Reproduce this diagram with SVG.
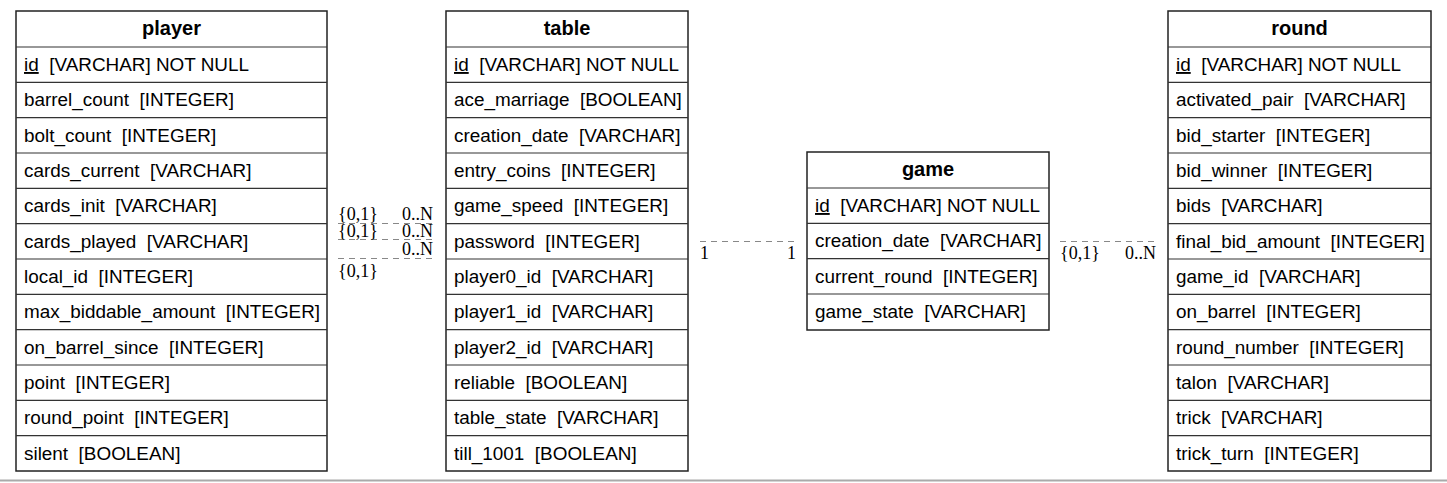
<svg xmlns="http://www.w3.org/2000/svg" width="1447" height="483" viewBox="0 0 1447 483">
<style>
.box{fill:#fff;stroke:#222;stroke-width:1.5}
.sep{stroke:#333;stroke-width:1.2}
.hd{font-family:"Liberation Sans",Arial,sans-serif;font-size:20px;font-weight:bold;fill:#000;text-anchor:middle}
.f{font-family:"Liberation Sans",Arial,sans-serif;font-size:18.9px;fill:#000;white-space:pre}
.u{text-decoration:underline}
.c{stroke:#888;stroke-width:1.2;stroke-dasharray:6 5;fill:none}
.lb{font-family:"Liberation Serif","Times New Roman",serif;font-size:18px;fill:#000}
</style>
<rect x="0" y="0" width="1447" height="483" fill="#fff"/>
<line x1="0" y1="480.5" x2="1447" y2="480.5" stroke="#aaa" stroke-width="2"/>

<g id="connectors">
<line class="c" x1="338" y1="223.5" x2="436" y2="223.5"/>
<line class="c" x1="338" y1="239.5" x2="436" y2="239.5"/>
<line class="c" x1="338" y1="258.5" x2="436" y2="258.5"/>
<line class="c" x1="700" y1="241.5" x2="796" y2="241.5"/>
<line class="c" x1="1060" y1="241.5" x2="1157" y2="241.5"/>
<rect x="336" y="204" width="46" height="17" fill="#fff"/>
<rect x="399" y="204" width="38" height="17" fill="#fff"/>
<text class="lb" x="338" y="220">{0,1}</text>
<text class="lb" x="402" y="220">0..N</text>
<text class="lb" x="338" y="237">{0,1}</text>
<text class="lb" x="402" y="237">0..N</text>
<text class="lb" x="402" y="255">0..N</text>
<text class="lb" x="338" y="277">{0,1}</text>
<text class="lb" x="700" y="259">1</text>
<text class="lb" x="787" y="259">1</text>
<text class="lb" x="1060" y="259">{0,1}</text>
<text class="lb" x="1125" y="259">0..N</text>
</g>

<g id="player">
<rect class="box" x="16" y="11" width="311" height="460"/>
<text class="hd" x="171.5" y="35">player</text>
<line class="sep" x1="16" y1="47" x2="327" y2="47"/>
<line class="sep" x1="16" y1="82.3" x2="327" y2="82.3"/>
<line class="sep" x1="16" y1="117.7" x2="327" y2="117.7"/>
<line class="sep" x1="16" y1="153" x2="327" y2="153"/>
<line class="sep" x1="16" y1="188.3" x2="327" y2="188.3"/>
<line class="sep" x1="16" y1="223.7" x2="327" y2="223.7"/>
<line class="sep" x1="16" y1="259" x2="327" y2="259"/>
<line class="sep" x1="16" y1="294.3" x2="327" y2="294.3"/>
<line class="sep" x1="16" y1="329.7" x2="327" y2="329.7"/>
<line class="sep" x1="16" y1="365" x2="327" y2="365"/>
<line class="sep" x1="16" y1="400.3" x2="327" y2="400.3"/>
<line class="sep" x1="16" y1="435.7" x2="327" y2="435.7"/>
<text class="f" x="24" y="71"><tspan class="u">id</tspan>  [VARCHAR] NOT NULL</text>
<text class="f" x="24" y="106.3">barrel_count  [INTEGER]</text>
<text class="f" x="24" y="141.7">bolt_count  [INTEGER]</text>
<text class="f" x="24" y="177">cards_current  [VARCHAR]</text>
<text class="f" x="24" y="212.3">cards_init  [VARCHAR]</text>
<text class="f" x="24" y="247.7">cards_played  [VARCHAR]</text>
<text class="f" x="24" y="283">local_id  [INTEGER]</text>
<text class="f" x="24" y="318.3">max_biddable_amount  [INTEGER]</text>
<text class="f" x="24" y="353.7">on_barrel_since  [INTEGER]</text>
<text class="f" x="24" y="389">point  [INTEGER]</text>
<text class="f" x="24" y="424.3">round_point  [INTEGER]</text>
<text class="f" x="24" y="459.7">silent  [BOOLEAN]</text>
</g>

<g id="table">
<rect class="box" x="446" y="11" width="242" height="460"/>
<text class="hd" x="567" y="35">table</text>
<line class="sep" x1="446" y1="47" x2="688" y2="47"/>
<line class="sep" x1="446" y1="82.3" x2="688" y2="82.3"/>
<line class="sep" x1="446" y1="117.7" x2="688" y2="117.7"/>
<line class="sep" x1="446" y1="153" x2="688" y2="153"/>
<line class="sep" x1="446" y1="188.3" x2="688" y2="188.3"/>
<line class="sep" x1="446" y1="223.7" x2="688" y2="223.7"/>
<line class="sep" x1="446" y1="259" x2="688" y2="259"/>
<line class="sep" x1="446" y1="294.3" x2="688" y2="294.3"/>
<line class="sep" x1="446" y1="329.7" x2="688" y2="329.7"/>
<line class="sep" x1="446" y1="365" x2="688" y2="365"/>
<line class="sep" x1="446" y1="400.3" x2="688" y2="400.3"/>
<line class="sep" x1="446" y1="435.7" x2="688" y2="435.7"/>
<text class="f" x="454" y="71"><tspan class="u">id</tspan>  [VARCHAR] NOT NULL</text>
<text class="f" x="454" y="106.3">ace_marriage  [BOOLEAN]</text>
<text class="f" x="454" y="141.7">creation_date  [VARCHAR]</text>
<text class="f" x="454" y="177">entry_coins  [INTEGER]</text>
<text class="f" x="454" y="212.3">game_speed  [INTEGER]</text>
<text class="f" x="454" y="247.7">password  [INTEGER]</text>
<text class="f" x="454" y="283">player0_id  [VARCHAR]</text>
<text class="f" x="454" y="318.3">player1_id  [VARCHAR]</text>
<text class="f" x="454" y="353.7">player2_id  [VARCHAR]</text>
<text class="f" x="454" y="389">reliable  [BOOLEAN]</text>
<text class="f" x="454" y="424.3">table_state  [VARCHAR]</text>
<text class="f" x="454" y="459.7">till_1001  [BOOLEAN]</text>
</g>

<g id="game">
<rect class="box" x="807" y="152" width="242" height="178"/>
<text class="hd" x="928" y="176">game</text>
<line class="sep" x1="807" y1="188" x2="1049" y2="188"/>
<line class="sep" x1="807" y1="223.3" x2="1049" y2="223.3"/>
<line class="sep" x1="807" y1="258.7" x2="1049" y2="258.7"/>
<line class="sep" x1="807" y1="294" x2="1049" y2="294"/>
<text class="f" x="815" y="212"><tspan class="u">id</tspan>  [VARCHAR] NOT NULL</text>
<text class="f" x="815" y="247.3">creation_date  [VARCHAR]</text>
<text class="f" x="815" y="282.7">current_round  [INTEGER]</text>
<text class="f" x="815" y="318">game_state  [VARCHAR]</text>
</g>

<g id="round">
<rect class="box" x="1168" y="11" width="263" height="460"/>
<text class="hd" x="1299.5" y="35">round</text>
<line class="sep" x1="1168" y1="47" x2="1431" y2="47"/>
<line class="sep" x1="1168" y1="82.3" x2="1431" y2="82.3"/>
<line class="sep" x1="1168" y1="117.7" x2="1431" y2="117.7"/>
<line class="sep" x1="1168" y1="153" x2="1431" y2="153"/>
<line class="sep" x1="1168" y1="188.3" x2="1431" y2="188.3"/>
<line class="sep" x1="1168" y1="223.7" x2="1431" y2="223.7"/>
<line class="sep" x1="1168" y1="259" x2="1431" y2="259"/>
<line class="sep" x1="1168" y1="294.3" x2="1431" y2="294.3"/>
<line class="sep" x1="1168" y1="329.7" x2="1431" y2="329.7"/>
<line class="sep" x1="1168" y1="365" x2="1431" y2="365"/>
<line class="sep" x1="1168" y1="400.3" x2="1431" y2="400.3"/>
<line class="sep" x1="1168" y1="435.7" x2="1431" y2="435.7"/>
<text class="f" x="1176" y="71"><tspan class="u">id</tspan>  [VARCHAR] NOT NULL</text>
<text class="f" x="1176" y="106.3">activated_pair  [VARCHAR]</text>
<text class="f" x="1176" y="141.7">bid_starter  [INTEGER]</text>
<text class="f" x="1176" y="177">bid_winner  [INTEGER]</text>
<text class="f" x="1176" y="212.3">bids  [VARCHAR]</text>
<text class="f" x="1176" y="247.7">final_bid_amount  [INTEGER]</text>
<text class="f" x="1176" y="283">game_id  [VARCHAR]</text>
<text class="f" x="1176" y="318.3">on_barrel  [INTEGER]</text>
<text class="f" x="1176" y="353.7">round_number  [INTEGER]</text>
<text class="f" x="1176" y="389">talon  [VARCHAR]</text>
<text class="f" x="1176" y="424.3">trick  [VARCHAR]</text>
<text class="f" x="1176" y="459.7">trick_turn  [INTEGER]</text>
</g>
</svg>
